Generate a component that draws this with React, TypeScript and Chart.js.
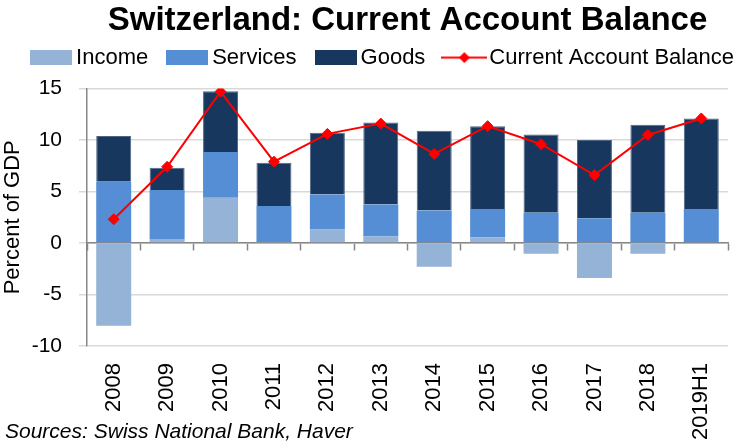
import React, { useEffect, useRef } from "react";
import { Chart, registerables } from "chart.js";

Chart.register(...registerables);

const categories = ["2008", "2009", "2010", "2011", "2012", "2013", "2014", "2015", "2016", "2017", "2018", "2019H1"];
const income = [-8.05, 0.4, 4.4, 0.1, 1.3, 0.65, -2.3, 0.55, -1.05, -3.4, -1.05, 0];
const services = [5.95, 4.75, 4.45, 3.5, 3.4, 3.1, 3.15, 2.75, 2.95, 2.4, 2.95, 3.3];
const goods = [4.45, 2.15, 5.9, 4.2, 6.0, 7.95, 7.75, 8.05, 7.6, 7.6, 8.55, 8.8];
const currentAccount = [2.3, 7.4, 14.7, 7.9, 10.6, 11.6, 8.65, 11.35, 9.6, 6.6, 10.5, 12.1];

const yMin = -10;
const yMax = 15;
const yStep = 5;

const seriesNames = ["Income", "Services", "Goods", "Current Account Balance"];
const colors = ["#95B3D7", "#558ED5", "#17375E", "#FF0000"];

const FONT = "'Liberation Sans', Arial, sans-serif";

function boxImage(color: string) {
  const c = document.createElement("canvas");
  c.width = 42;
  c.height = 15;
  const g = c.getContext("2d")!;
  g.fillStyle = color;
  g.fillRect(0, 0, 42, 15);
  return c;
}

function lineImage(color: string) {
  const c = document.createElement("canvas");
  c.width = 46;
  c.height = 15;
  const g = c.getContext("2d")!;
  g.strokeStyle = color;
  g.lineWidth = 2;
  g.beginPath();
  g.moveTo(0, 7.5);
  g.lineTo(46, 7.5);
  g.stroke();
  g.fillStyle = color;
  g.beginPath();
  g.moveTo(23, 2);
  g.lineTo(28.5, 7.5);
  g.lineTo(23, 13);
  g.lineTo(17.5, 7.5);
  g.closePath();
  g.fill();
  return c;
}

export default function App() {
  const ref = useRef<HTMLCanvasElement>(null);

  useEffect(() => {
    if (!ref.current) return;
    const images = [boxImage(colors[0]), boxImage(colors[1]), boxImage(colors[2]), lineImage(colors[3])];
    const barCommon = { stack: "bars", order: 1, barPercentage: 0.655, categoryPercentage: 1 };
    const chart = new Chart(ref.current, {
      type: "bar",
      data: {
        labels: categories,
        datasets: [
          { type: "bar", label: seriesNames[0], data: income, backgroundColor: colors[0], ...barCommon },
          { type: "bar", label: seriesNames[1], data: services, backgroundColor: colors[1], ...barCommon },
          {
            type: "bar",
            label: seriesNames[2],
            data: goods,
            backgroundColor: colors[2],
            borderColor: "#4E6585",
            borderWidth: 1,
            ...barCommon,
          },
          {
            type: "line",
            label: seriesNames[3],
            data: currentAccount,
            borderColor: colors[3],
            backgroundColor: colors[3],
            borderWidth: 2,
            pointStyle: "rectRot",
            pointRadius: 5.5,
            pointBackgroundColor: colors[3],
            pointBorderColor: colors[3],
            pointBorderWidth: 1,
            tension: 0,
            stack: "line",
            order: 0,
          },
        ] as any,
      },
      options: {
        responsive: false,
        animation: false,
        layout: { padding: { top: 0, right: -8, bottom: -12, left: 8 } },
        plugins: {
          title: {
            display: true,
            text: "Switzerland: Current Account Balance",
            fullSize: false,
            color: "#000",
            font: { family: FONT, size: 33, weight: "bold" },
            padding: { top: 1, bottom: -19 },
          },
          subtitle: {
            display: true,
            text: " ",
            weight: 0,
            font: { family: FONT, size: 1, lineHeight: 1 },
            padding: { top: 9, bottom: 0 },
          },
          legend: {
            display: true,
            position: "top",
            labels: {
              usePointStyle: true,
              pointStyleWidth: 28,
              boxHeight: 15,
              padding: 25,
              color: "#000",
              font: { family: FONT, size: 22 },
              sort: (a: any, b: any) => a.datasetIndex - b.datasetIndex,
              generateLabels: (ch: any) => {
                const items = (Chart.defaults.plugins.legend.labels as any).generateLabels(ch);
                return items.map((it: any) => ({ ...it, pointStyle: images[it.datasetIndex], lineWidth: 0 }));
              },
            },
          },
          tooltip: { enabled: false },
        },
        scales: {
          x: {
            stacked: true,
            offset: true,
            grid: { display: false, drawTicks: false },
            border: { display: false },
            ticks: {
              autoSkip: false,
              minRotation: 90,
              maxRotation: 90,
              padding: 17,
              color: "#000",
              font: { family: FONT, size: 22 },
            },
          },
          x2: {
            type: "category",
            axis: "x",
            labels: categories,
            position: { y: 0 },
            offset: true,
            z: 1,
            grid: {
              offset: true,
              drawOnChartArea: false,
              drawTicks: true,
              tickLength: 7,
              tickColor: "#868686",
              tickWidth: 1.5,
            },
            border: { display: true, color: "#868686", width: 1.5 },
            ticks: { display: false },
          },
          y: {
            stacked: true,
            min: yMin,
            max: yMax,
            afterFit: (s: any) => {
              s.width = 79;
            },
            ticks: {
              stepSize: yStep,
              padding: 17,
              color: "#000",
              font: { family: FONT, size: 21 },
            },
            grid: { color: "#D9D9D9", lineWidth: 1.5, tickLength: 8 },
            border: { display: true, color: "#868686", width: 1.5 },
            title: {
              display: true,
              text: "Percent of GDP",
              color: "#000",
              font: { family: FONT, size: 22 },
              padding: { top: -8, bottom: 5 },
            },
          },
          ySpacer: {
            axis: "y",
            position: "right",
            display: true,
            min: yMin,
            max: yMax,
            afterFit: (s: any) => {
              s.width = 35;
            },
            grid: { display: false, drawTicks: false },
            border: { display: false },
            ticks: { display: false },
          },
        },
      } as any,
    });
    return () => chart.destroy();
  }, []);

  return (
    <div style={{ position: "absolute", left: 0, top: 0, width: 755, height: 445, background: "#fff" }}>
      <canvas ref={ref} width={755} height={445} />
      <div
        style={{
          position: "absolute",
          left: 5,
          top: 419,
          fontFamily: FONT,
          fontStyle: "italic",
          fontSize: 21,
          lineHeight: "24px",
          color: "#000",
          whiteSpace: "nowrap",
        }}
      >
        Sources: Swiss National Bank, Haver
      </div>
    </div>
  );
}
